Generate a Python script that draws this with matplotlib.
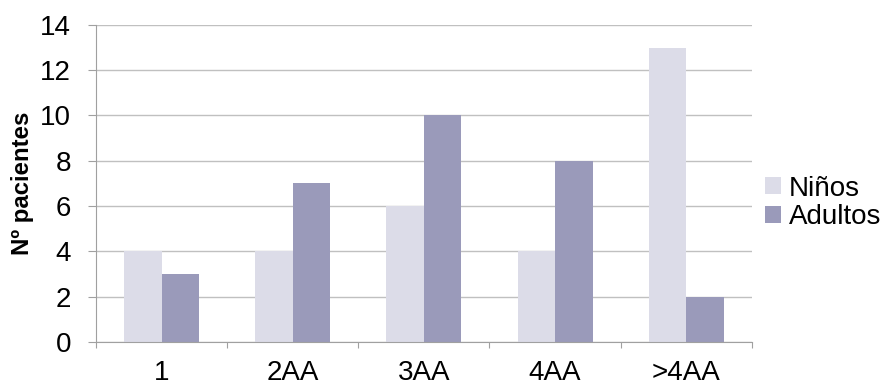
import matplotlib.pyplot as plt
import numpy as np

categories = ['1', '2AA', '3AA', '4AA', '>4AA']
ninos = [4, 4, 6, 4, 13]
adultos = [3, 7, 10, 8, 2]

plt.rcParams['font.family'] = ['Liberation Sans', 'DejaVu Sans']

fig = plt.figure(figsize=(8.85, 3.89), dpi=100)
ax = fig.add_axes([0.1085, 0.121, 0.741, 0.815])

x = np.arange(len(categories))
w = 0.286
ax.bar(x - w / 2, ninos, w, color='#dcdce8', label='Niños', zorder=2)
ax.bar(x + w / 2, adultos, w, color='#9a9aba', label='Adultos', zorder=2)

ax.set_xlim(-0.5, len(categories) - 0.5)
ax.set_ylim(0, 14)
ax.set_yticks(range(0, 15, 2))
ax.yaxis.grid(True, color='#c0c0c0', linewidth=1, zorder=0)

ax.set_xticks(np.arange(-0.5, len(categories)), [])
ax.set_xticks(x, categories, minor=True)
ax.tick_params(axis='x', which='major', length=4.5, color='#a0a0a0')
ax.tick_params(axis='x', which='minor', length=0, pad=13, labelsize=20)
ax.tick_params(axis='y', length=6, color='#a0a0a0', labelsize=20, pad=12)

for side in ['top', 'right']:
    ax.spines[side].set_visible(False)
for side in ['left', 'bottom']:
    ax.spines[side].set_color('#a0a0a0')

ax.set_ylabel('Nº pacientes', fontsize=17.3, fontweight='bold', labelpad=4)

ax.legend(loc='center left', bbox_to_anchor=(0.849, 0.478), bbox_transform=fig.transFigure,
          frameon=False, fontsize=20, handlelength=0.55, handleheight=0.55,
          handletextpad=0.3, labelspacing=0.1, borderpad=0)

fig.savefig('out.png', dpi=100)
